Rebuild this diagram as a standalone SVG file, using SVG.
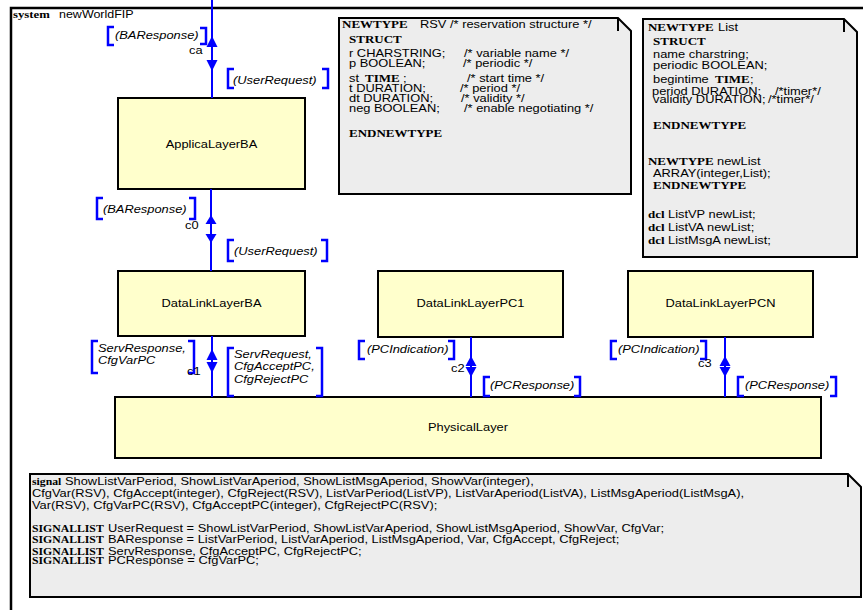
<svg xmlns="http://www.w3.org/2000/svg" width="863" height="610" viewBox="0 0 863 610">
  <style>
    .frame { fill: none; stroke: #000; stroke-width: 2.5; }
    .box { fill: #FFFFCC; stroke: #000; stroke-width: 2; }
    .note { fill: #EDEDED; stroke: #000; stroke-width: 2; stroke-linejoin: miter; }
    .fold { fill: none; stroke: #000; stroke-width: 2; }
    .ch { stroke: #0000FF; stroke-width: 2; fill: none; }
    .ah { fill: #0000FF; }
    .br { stroke: #0000FF; stroke-width: 2.5; fill: none; }
    .s { font-family: "Liberation Sans", Arial, sans-serif; font-size: 10.3px; fill: #000; }
    .i { font-style: italic; }
    .k { font-family: "Liberation Serif", "Times New Roman", serif; font-weight: bold; font-size: 10.4px; }
    .k2 { font-family: "Liberation Serif", "Times New Roman", serif; font-weight: bold; font-size: 9.4px; }
  </style>

  <rect x="0" y="0" width="863" height="610" fill="#FFFFFF"/>

  <!-- system frame -->
  <g id="system-frame">
    <path class="frame" d="M11,620 V8 H875"/>
    <text class="s" transform="scale(1.25 1)" y="18"><tspan class="k" x="10.4" style="font-size:10.2px">system</tspan><tspan x="47.2" style="font-size:10px">newWorldFIP</tspan></text>
  </g>

  <!-- blocks -->
  <g id="ApplicaLayerBA">
    <rect class="box" x="118" y="98" width="187" height="91"/>
    <text class="s" transform="scale(1.25 1)" x="169.2" y="148" text-anchor="middle">ApplicaLayerBA</text>
  </g>
  <g id="DataLinkLayerBA">
    <rect class="box" x="118" y="271" width="187" height="65"/>
    <text class="s" transform="scale(1.25 1)" x="169.2" y="307" text-anchor="middle">DataLinkLayerBA</text>
  </g>
  <g id="DataLinkLayerPC1">
    <rect class="box" x="378" y="271" width="185" height="66"/>
    <text class="s" transform="scale(1.25 1)" x="376.4" y="307" text-anchor="middle">DataLinkLayerPC1</text>
  </g>
  <g id="DataLinkLayerPCN">
    <rect class="box" x="628" y="271" width="185" height="66"/>
    <text class="s" transform="scale(1.25 1)" x="576.4" y="307" text-anchor="middle">DataLinkLayerPCN</text>
  </g>
  <g id="PhysicalLayer">
    <rect class="box" x="115" y="397" width="706" height="61"/>
    <text class="s" transform="scale(1.25 1)" x="374.4" y="431" text-anchor="middle">PhysicalLayer</text>
  </g>

  <!-- text symbols -->
  <g id="note-RSV">
    <path class="note" d="M339,18 H618 L631,31 V194 H339 Z"/>
    <path class="fold" d="M618,18 V31"/>
    <text class="s" transform="scale(1.25 1)">
      <tspan y="28"><tspan class="k" x="273.6">NEWTYPE</tspan><tspan x="336">RSV</tspan><tspan x="360">/* reservation structure */</tspan></tspan>
      <tspan class="k" x="279.2" y="43">STRUCT</tspan>
      <tspan y="57"><tspan x="279.2">r CHARSTRING;</tspan><tspan x="371.2">/* variable name */</tspan></tspan>
      <tspan y="67"><tspan x="279.2">p BOOLEAN;</tspan><tspan x="370.4">/* periodic */</tspan></tspan>
      <tspan y="82"><tspan x="279.2">st</tspan><tspan class="k" x="292">TIME</tspan><tspan x="322.4">;</tspan><tspan x="373.6">/* start time */</tspan></tspan>
      <tspan y="92"><tspan x="279.2">t DURATION;</tspan><tspan x="368">/* period */</tspan></tspan>
      <tspan y="102"><tspan x="279.2">dt DURATION;</tspan><tspan x="368.8">/* validity */</tspan></tspan>
      <tspan y="112"><tspan x="279.2">neg BOOLEAN;</tspan><tspan x="371.2">/* enable negotiating */</tspan></tspan>
      <tspan class="k" x="279.2" y="137">ENDNEWTYPE</tspan>
    </text>
  </g>

  <g id="note-List">
    <path class="note" d="M643,19 H844 L857,32 V257 H643 Z"/>
    <path class="fold" d="M844,19 V32"/>
    <text class="s" transform="scale(1.25 1)">
      <tspan y="31"><tspan class="k" x="518.4">NEWTYPE</tspan><tspan x="574.4">List</tspan></tspan>
      <tspan class="k" x="522.4" y="45">STRUCT</tspan>
      <tspan x="522.4" y="58">name charstring;</tspan>
      <tspan x="522.4" y="69">periodic BOOLEAN;</tspan>
      <tspan y="83"><tspan x="522.4">begintime</tspan><tspan class="k" x="572">TIME</tspan><tspan x="600">;</tspan></tspan>
      <tspan y="95"><tspan x="521.6">period DURATION;</tspan><tspan x="620">/*timer*/</tspan></tspan>
      <tspan y="103"><tspan x="522.4">validity DURATION;</tspan><tspan x="614.4">/*timer*/</tspan></tspan>
      <tspan class="k" x="522.4" y="129">ENDNEWTYPE</tspan>
      <tspan y="165"><tspan class="k" x="518.4">NEWTYPE</tspan><tspan x="573.6">newList</tspan></tspan>
      <tspan x="522.4" y="177">ARRAY(integer,List);</tspan>
      <tspan class="k" x="522.4" y="189">ENDNEWTYPE</tspan>
      <tspan y="218"><tspan class="k" x="518.4">dcl</tspan><tspan x="534.4">ListVP newList;</tspan></tspan>
      <tspan y="231"><tspan class="k" x="518.4">dcl</tspan><tspan x="534.4">ListVA newList;</tspan></tspan>
      <tspan y="244"><tspan class="k" x="518.4">dcl</tspan><tspan x="534.4">ListMsgA newList;</tspan></tspan>
    </text>
  </g>

  <g id="note-signals">
    <path class="note" d="M30,474 H848 L861,487 V597 H30 Z"/>
    <path class="fold" d="M848,474 V487"/>
    <text class="s" transform="scale(1.25 1)">
      <tspan y="485"><tspan class="k2" x="25.6">signal</tspan><tspan x="52">ShowListVarPeriod, ShowListVarAperiod, ShowListMsgAperiod, ShowVar(integer),</tspan></tspan>
      <tspan x="25.6" y="497">CfgVar(RSV), CfgAccept(integer), CfgReject(RSV), ListVarPeriod(ListVP), ListVarAperiod(ListVA), ListMsgAperiod(ListMsgA),</tspan>
      <tspan x="25.6" y="509">Var(RSV), CfgVarPC(RSV), CfgAcceptPC(integer), CfgRejectPC(RSV);</tspan>
      <tspan y="532"><tspan class="k2" x="25.6">SIGNALLIST</tspan><tspan x="86.4">UserRequest = ShowListVarPeriod, ShowListVarAperiod, ShowListMsgAperiod, ShowVar, CfgVar;</tspan></tspan>
      <tspan y="543.5"><tspan class="k2" x="25.6">SIGNALLIST</tspan><tspan x="86.4">BAResponse = ListVarPeriod, ListVarAperiod, ListMsgAperiod, Var, CfgAccept, CfgReject;</tspan></tspan>
      <tspan y="555"><tspan class="k2" x="25.6">SIGNALLIST</tspan><tspan x="86.4">ServResponse, CfgAcceptPC, CfgRejectPC;</tspan></tspan>
      <tspan y="564"><tspan class="k2" x="25.6">SIGNALLIST</tspan><tspan x="86.4">PCResponse = CfgVarPC;</tspan></tspan>
    </text>
  </g>

  <!-- channels: lines, arrowheads, signal-list brackets and names -->
  <g id="connectors">
    <!-- ca -->
    <line class="ch" x1="212" y1="0" x2="212" y2="98"/>
    <polygon class="ah" points="212,36 206.5,47 217.5,47"/>
    <polygon class="ah" points="206.5,60 217.5,60 212,71"/>
    <path class="br" d="M114,27 H108 V45 H114 M200,28 H206 V44 H200"/>
    <path class="br" d="M234,69 H228 V88 H234 M322,69 H328 V88 H322"/>

    <!-- c0 -->
    <line class="ch" x1="211" y1="189" x2="211" y2="271"/>
    <polygon class="ah" points="211,215 205.5,224 216.5,224"/>
    <polygon class="ah" points="205.5,234 216.5,234 211,243"/>
    <path class="br" d="M103,198 H97 V219 H103 M189,198 H195 V219 H189"/>
    <path class="br" d="M234,240 H228 V261 H234 M321,240 H327 V261 H321"/>

    <!-- c1 -->
    <line class="ch" x1="212" y1="336" x2="212" y2="397"/>
    <polygon class="ah" points="212,349 206.5,360 217.5,360"/>
    <polygon class="ah" points="206.5,362 217.5,362 212,373"/>
    <path class="br" d="M98,341 H92 V373 H98 M188,341 H194 V373 H188"/>
    <path class="br" d="M234,348 H228 V396 H234 M316,348 H322 V396 H316"/>

    <!-- c2 -->
    <line class="ch" x1="471" y1="337" x2="471" y2="397"/>
    <polygon class="ah" points="471,356 465.5,366 476.5,366"/>
    <polygon class="ah" points="465.5,367 476.5,367 471,377"/>
    <path class="br" d="M365,341 H359 V359 H365 M448,341 H454 V359 H448"/>
    <path class="br" d="M490,377 H484 V396 H490 M574,377 H580 V396 H574"/>

    <!-- c3 -->
    <line class="ch" x1="725" y1="337" x2="725" y2="397"/>
    <polygon class="ah" points="725,356 719.5,366 730.5,366"/>
    <polygon class="ah" points="719.5,367 730.5,367 725,377"/>
    <path class="br" d="M617,341 H611 V359 H617 M700,341 H706 V359 H700"/>
    <path class="br" d="M744,377 H738 V396 H744 M830,377 H836 V396 H830"/>

    <g class="s" transform="scale(1.25 1)">
      <text class="i" x="92" y="39">(BAResponse)</text>
      <text x="151.2" y="54">ca</text>
      <text class="i" x="186.4" y="84">(UserRequest)</text>

      <text class="i" x="82.4" y="213">(BAResponse)</text>
      <text x="148" y="229">c0</text>
      <text class="i" x="187.2" y="255">(UserRequest)</text>

      <text class="i" x="78.4" y="352">ServResponse,<tspan x="78.4" y="364">CfgVarPC</tspan></text>
      <text x="149.6" y="375">c1</text>
      <text class="i" x="187.2" y="358">ServRequest,<tspan x="187.2" y="370.5">CfgAcceptPC,</tspan><tspan x="187.2" y="383">CfgRejectPC</tspan></text>

      <text class="i" x="293.6" y="353">(PCIndication)</text>
      <text x="360.8" y="372">c2</text>
      <text class="i" x="392" y="389">(PCResponse)</text>

      <text class="i" x="494.4" y="353">(PCIndication)</text>
      <text x="558.4" y="367">c3</text>
      <text class="i" x="596" y="389">(PCResponse)</text>
    </g>
  </g>
</svg>
